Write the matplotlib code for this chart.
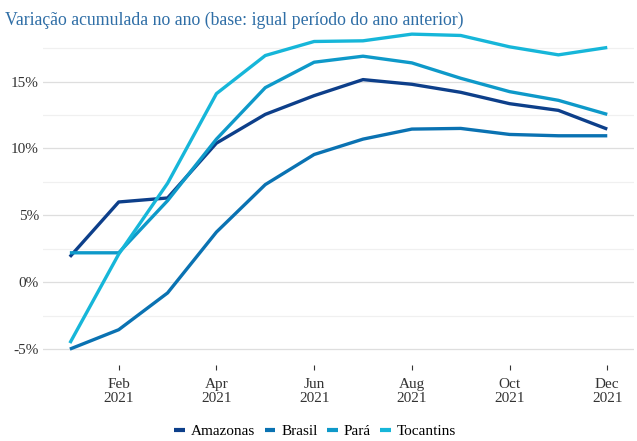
import matplotlib
matplotlib.use('Agg')
import matplotlib.pyplot as plt
from matplotlib.ticker import MultipleLocator, FuncFormatter

plt.rcParams['font.family'] = ['Liberation Serif', 'DejaVu Serif']

# Monthly data, Jan..Dec 2021 (accumulated % change)
months = list(range(1, 13))
amazonas = [1.9, 6.0, 6.3, 10.4, 12.55, 13.95, 15.15, 14.8, 14.2, 13.35, 12.85, 11.45]
brasil = [-5.0, -3.55, -0.8, 3.75, 7.3, 9.55, 10.7, 11.45, 11.5, 11.05, 10.95, 10.95]
para = [2.2, 2.2, 6.1, 10.7, 14.55, 16.45, 16.9, 16.4, 15.25, 14.25, 13.6, 12.55]
tocantins = [-4.55, 2.1, 7.4, 14.1, 16.95, 18.0, 18.05, 18.55, 18.45, 17.6, 17.0, 17.55]

series = ['Amazonas', 'Brasil', 'Pará', 'Tocantins']
colors = ['#0d3f8a', '#0a72b2', '#0e99c9', '#16b6d9']
tick_months = [2, 4, 6, 8, 10, 12]
tick_labels = ['Feb\n2021', 'Apr\n2021', 'Jun\n2021', 'Aug\n2021', 'Oct\n2021', 'Dec\n2021']

fig = plt.figure(figsize=(6.37, 4.41), dpi=100)
ax = fig.add_axes([0.0675, 0.172, 0.928, 0.787])

for name, vals, c in zip(series, [amazonas, brasil, para, tocantins], colors):
    ax.plot(months, vals, color=c, lw=2.4, label=name, solid_capstyle='butt')

ax.set_xlim(1 - 0.55, 12 + 0.55)
ax.set_ylim(-6.2, 19.75)
ax.set_xticks(tick_months)
ax.set_xticklabels(tick_labels, linespacing=1.05)
ax.yaxis.set_major_locator(MultipleLocator(5))
ax.yaxis.set_minor_locator(MultipleLocator(2.5))
ax.yaxis.set_major_formatter(FuncFormatter(lambda v, p: f'{v:.0f}%'))

ax.grid(axis='y', which='major', color='#dedede', lw=0.9)
ax.grid(axis='y', which='minor', color='#f0f0f0', lw=0.9)
ax.set_axisbelow(True)
for s in ax.spines.values():
    s.set_visible(False)
ax.tick_params(axis='y', which='both', length=0, labelsize=11, labelcolor='#333333', pad=3)
ax.tick_params(axis='x', length=3.5, width=0.8, color='#333333', labelsize=11,
               labelcolor='#333333', pad=6)

fig.text(0.008, 0.943, 'Variação acumulada no ano (base: igual período do ano anterior)',
         color='#2f6ea6', fontsize=12.8, ha='left', va='baseline')

leg = fig.legend(loc='center', bbox_to_anchor=(0.495, 0.022), ncol=4, frameon=False,
                 fontsize=11, handlelength=0.7, handletextpad=0.4, columnspacing=0.6)
for h in leg.get_lines():
    h.set_linewidth(3)

fig.savefig('out.png', dpi=100)
